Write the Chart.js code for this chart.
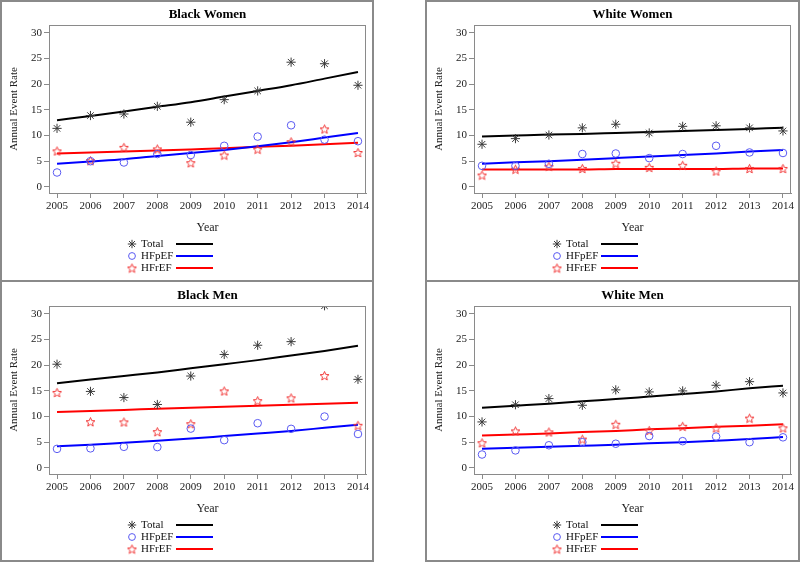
<!DOCTYPE html>
<html>
<head>
<meta charset="utf-8">
<script src="https://cdn.jsdelivr.net/npm/chart.js@4/dist/chart.umd.min.js"></script>
<style>
html,body{margin:0;padding:0;background:#fff;}
#wrap{position:relative;width:800px;height:562px;overflow:hidden;background:#fff;}
.frame{position:absolute;box-sizing:border-box;border:2px solid #8a8a8a;}
#wrap canvas{position:absolute;}
</style>
</head>
<body>
<div id="wrap"></div>
<script>
// ---------- data ----------
const years = [2005, 2006, 2007, 2008, 2009, 2010, 2011, 2012, 2013, 2014];
const yTicks = [0, 5, 10, 15, 20, 25, 30];
const seriesNames = ['Total', 'HFpEF', 'HFrEF'];
const panelTitles = ['Black Women', 'White Women', 'Black Men', 'White Men'];

// Black Women
const bwTotal    = [11.4, 13.9, 14.2, 15.7, 12.6, 17.0, 18.7, 24.3, 24.0, 19.8];
const bwHFpEF    = [2.8, 5.0, 4.75, 6.4, 6.2, 8.0, 9.8, 12.0, 9.2, 8.9];
const bwHFrEF    = [7.0, 5.1, 7.7, 7.4, 4.7, 6.2, 7.35, 8.8, 11.3, 6.7];
const bwTotalFit = [13.0, 13.8, 14.7, 15.6, 16.5, 17.6, 18.7, 19.8, 21.1, 22.4];
const bwHFpEFFit = [4.5, 4.95, 5.4, 6.0, 6.6, 7.2, 7.9, 8.7, 9.6, 10.5];
const bwHFrEFFit = [6.5, 6.7, 6.9, 7.1, 7.3, 7.5, 7.8, 8.0, 8.3, 8.6];

// White Women
const wwTotal    = [8.3, 9.4, 10.1, 11.5, 12.2, 10.5, 11.8, 11.9, 11.5, 10.9];
const wwHFpEF    = [4.1, 4.1, 4.5, 6.4, 6.5, 5.6, 6.4, 8.0, 6.7, 6.6];
const wwHFrEF    = [2.3, 3.45, 4.0, 3.6, 4.6, 3.8, 4.2, 3.1, 3.6, 3.6];
const wwTotalFit = [9.8, 10.0, 10.2, 10.3, 10.5, 10.7, 10.9, 11.1, 11.3, 11.5];
const wwHFpEFFit = [4.5, 4.8, 5.0, 5.3, 5.6, 5.9, 6.2, 6.5, 6.9, 7.2];
const wwHFrEFFit = [3.4, 3.4, 3.4, 3.4, 3.5, 3.5, 3.5, 3.5, 3.6, 3.6];

// Black Men
const bmTotal    = [20.2, 14.9, 13.7, 12.35, 17.9, 22.1, 23.9, 24.6, 31.6, 17.25];
const bmHFpEF    = [3.7, 3.8, 4.1, 4.05, 7.65, 5.4, 8.7, 7.6, 10.0, 6.6];
const bmHFrEF    = [14.7, 9.0, 8.95, 7.05, 8.6, 15.0, 13.1, 13.65, 18.0, 8.3];
const bmTotalFit = [16.5, 17.2, 17.9, 18.6, 19.4, 20.2, 21.0, 21.9, 22.8, 23.8];
const bmHFpEFFit = [4.2, 4.5, 4.9, 5.3, 5.7, 6.2, 6.7, 7.2, 7.8, 8.4];
const bmHFrEFFit = [10.9, 11.1, 11.3, 11.5, 11.7, 11.9, 12.1, 12.3, 12.5, 12.7];

// White Men
const wmTotal    = [8.95, 12.3, 13.5, 12.2, 15.2, 14.8, 15.0, 16.1, 16.8, 14.6];
const wmHFpEF    = [2.6, 3.4, 4.4, 5.0, 4.7, 6.2, 5.2, 6.1, 5.0, 5.95];
const wmHFrEF    = [4.9, 7.2, 7.0, 5.6, 8.5, 7.3, 8.1, 7.8, 9.7, 7.8];
const wmTotalFit = [11.7, 12.1, 12.5, 13.0, 13.4, 13.9, 14.4, 14.9, 15.5, 16.0];
const wmHFpEFFit = [3.7, 3.9, 4.1, 4.3, 4.5, 4.8, 5.0, 5.3, 5.6, 6.0];
const wmHFrEFFit = [6.3, 6.5, 6.7, 7.0, 7.2, 7.5, 7.7, 8.0, 8.2, 8.5];

// ---------- layout / style ----------
const panels = [
  {title: panelTitles[0], left: 0,   top: 0,   obs: [bwTotal, bwHFpEF, bwHFrEF], fit: [bwTotalFit, bwHFpEFFit, bwHFrEFFit]},
  {title: panelTitles[1], left: 425, top: 0,   obs: [wwTotal, wwHFpEF, wwHFrEF], fit: [wwTotalFit, wwHFpEFFit, wwHFrEFFit]},
  {title: panelTitles[2], left: 0,   top: 281, obs: [bmTotal, bmHFpEF, bmHFrEF], fit: [bmTotalFit, bmHFpEFFit, bmHFrEFFit]},
  {title: panelTitles[3], left: 425, top: 281, obs: [wmTotal, wmHFpEF, wmHFrEF], fit: [wmTotalFit, wmHFpEFFit, wmHFrEFFit]}
];
const frames = [
  {left: 0, top: 0, w: 374, h: 282}, {left: 425, top: 0, w: 375, h: 282},
  {left: 0, top: 280, w: 374, h: 282}, {left: 425, top: 280, w: 375, h: 282}
];
const FONT = "'Liberation Serif', 'Times New Roman', serif";
const markerColors = ['#3a3a3a', '#5a5af2', '#f23a3a'];
const lineColors = ['#000000', '#0000ff', '#ff0000'];
const AXIS = '#8a8a8a';

function makeStar(color, size) {
  const c = document.createElement('canvas');
  c.width = size; c.height = size;
  const ctx = c.getContext('2d');
  const cx = size / 2, cy = size / 2 + 0.6;
  const R = size / 2 - 0.8, r = R * 0.45;
  ctx.beginPath();
  for (let i = 0; i < 10; i++) {
    const a = -Math.PI / 2 + i * Math.PI / 5;
    const rr = i % 2 ? r : R;
    ctx.lineTo(cx + rr * Math.cos(a), cy + rr * Math.sin(a));
  }
  ctx.closePath();
  ctx.strokeStyle = color; ctx.lineWidth = 1; ctx.stroke();
  return c;
}
const starImg = makeStar(markerColors[2], 11);
const pointStyles = ['star', 'circle', starImg];
const pointRadii = [4.6, 3.8, 5];

const framePlugin = {
  id: 'plotFrame',
  afterDraw(chart) {
    const a = chart.chartArea, ctx = chart.ctx;
    ctx.save();
    ctx.strokeStyle = AXIS; ctx.lineWidth = 1;
    ctx.strokeRect(Math.round(a.left) + 0.5, Math.round(a.top) + 0.5,
                   Math.round(a.right - a.left) - 1, Math.round(a.bottom - a.top));
    ctx.restore();
  }
};

function drawSymbol(ctx, style, radius, color, x, y) {
  ctx.save();
  ctx.strokeStyle = color; ctx.fillStyle = 'rgba(0,0,0,0)'; ctx.lineWidth = 1;
  if (window.Chart && Chart.helpers && Chart.helpers.drawPoint) {
    Chart.helpers.drawPoint(ctx, {pointStyle: style, radius: radius, borderWidth: 1, rotation: 0}, x, y);
  } else if (style === 'circle') {
    ctx.beginPath(); ctx.arc(x, y, radius, 0, Math.PI * 2); ctx.stroke();
  } else if (style === 'star') {
    ctx.beginPath();
    for (let i = 0; i < 4; i++) {
      const ang = i * Math.PI / 4;
      ctx.moveTo(x - radius * Math.cos(ang), y - radius * Math.sin(ang));
      ctx.lineTo(x + radius * Math.cos(ang), y + radius * Math.sin(ang));
    }
    ctx.stroke();
  } else {
    ctx.drawImage(style, x - style.width / 2, y - style.height / 2);
  }
  ctx.restore();
}

const legendPlugin = {
  id: 'sasLegend',
  afterDraw(chart) {
    const a = chart.chartArea, ctx = chart.ctx;
    ctx.save();
    ctx.font = '11px ' + FONT;
    ctx.textBaseline = 'middle';
    ctx.fillStyle = '#111';
    for (let i = 0; i < 3; i++) {
      const y = Math.round(a.bottom + 51 + i * 12);
      drawSymbol(ctx, pointStyles[i], pointRadii[i] - 0.4, markerColors[i], a.left + 83, y);
      ctx.fillStyle = '#111';
      ctx.fillText(seriesNames[i], a.left + 92, y + 0.5);
      ctx.beginPath();
      ctx.strokeStyle = lineColors[i]; ctx.lineWidth = 2;
      ctx.moveTo(a.left + 127, y); ctx.lineTo(a.left + 164, y);
      ctx.stroke();
    }
    ctx.restore();
  }
};

const wrap = document.getElementById('wrap');
frames.forEach(f => {
  const d = document.createElement('div');
  d.className = 'frame';
  d.style.left = f.left + 'px'; d.style.top = f.top + 'px';
  d.style.width = f.w + 'px'; d.style.height = f.h + 'px';
  wrap.appendChild(d);
});

panels.forEach(p => {
  const cv = document.createElement('canvas');
  cv.width = 374; cv.height = 281;
  cv.style.left = p.left + 'px'; cv.style.top = p.top + 'px';
  cv.style.width = '374px'; cv.style.height = '281px';
  wrap.appendChild(cv);

  const datasets = [];
  for (let i = 0; i < 3; i++) {
    datasets.push({
      label: seriesNames[i],
      data: years.map((x, k) => ({x: x, y: p.obs[i][k]})),
      pointStyle: pointStyles[i],
      pointRadius: pointRadii[i],
      borderColor: markerColors[i],
      backgroundColor: 'rgba(0,0,0,0)',
      borderWidth: 1,
      showLine: false,
      order: 1
    });
  }
  for (let i = 0; i < 3; i++) {
    datasets.push({
      type: 'line',
      label: seriesNames[i] + ' fit',
      data: years.map((x, k) => ({x: x, y: p.fit[i][k]})),
      borderColor: lineColors[i],
      borderWidth: 2,
      pointRadius: 0,
      fill: false,
      cubicInterpolationMode: 'monotone',
      order: 2
    });
  }

  new Chart(cv, {
    type: 'scatter',
    data: {datasets: datasets},
    options: {
      responsive: false,
      animation: false,
      events: [],
      devicePixelRatio: 1,
      layout: {padding: {right: 8, left: 0, top: 0, bottom: 0}},
      plugins: {
        legend: {display: false},
        tooltip: {enabled: false},
        title: {
          display: true, text: p.title, fullSize: false, color: '#000',
          font: {family: FONT, size: 13, weight: 'bold', lineHeight: 1.2},
          padding: {top: 7, bottom: 2.4}
        }
      },
      scales: {
        x: {
          type: 'linear', min: 2004.76, max: 2014.24,
          afterBuildTicks: s => { s.ticks = years.map(v => ({value: v})); },
          afterFit: s => { s.height = 88; },
          ticks: {font: {family: FONT, size: 11}, color: '#222', padding: 2, maxRotation: 0, autoSkip: false,
                  callback: v => String(v)},
          grid: {display: true, drawOnChartArea: false, drawTicks: true, tickLength: 5, color: AXIS},
          border: {display: true, color: AXIS},
          title: {display: true, text: 'Year', color: '#222',
                  font: {family: FONT, size: 12, lineHeight: 1.2}, padding: {top: 0, bottom: 45.8}}
        },
        y: {
          min: -1.2, max: 31.55,
          afterBuildTicks: s => { s.ticks = yTicks.map(v => ({value: v})); },
          afterFit: s => { s.width = 49; },
          ticks: {font: {family: FONT, size: 11}, color: '#222', padding: 2, autoSkip: false,
                  callback: v => String(v)},
          grid: {display: true, drawOnChartArea: false, drawTicks: true, tickLength: 5, color: AXIS},
          border: {display: true, color: AXIS},
          title: {display: true, text: 'Annual Event Rate', color: '#222',
                  font: {family: FONT, size: 11, lineHeight: 1.2}, padding: {top: 7.4, bottom: 0}}
        }
      }
    },
    plugins: [framePlugin, legendPlugin]
  });
});
</script>
</body>
</html>
